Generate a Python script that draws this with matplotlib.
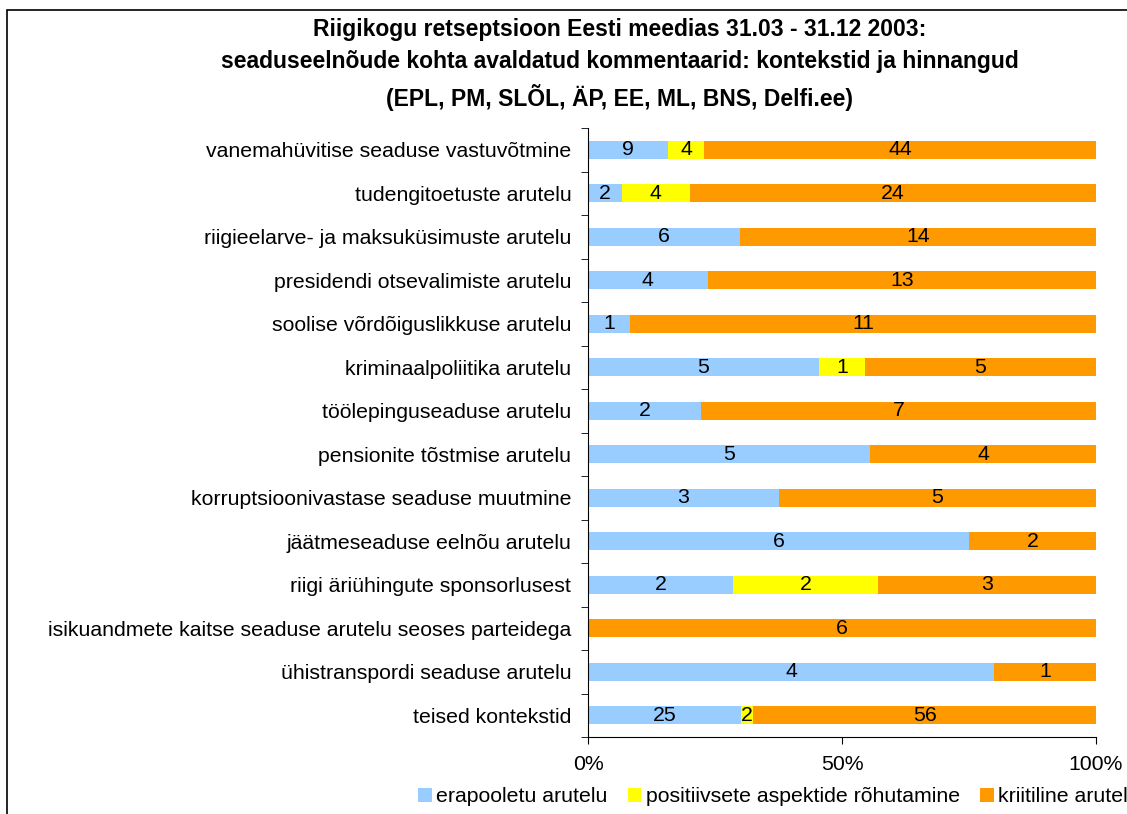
import matplotlib.pyplot as plt
import matplotlib.patches as mpatches
import numpy as np

plt.rcParams['font.family'] = ['Liberation Sans', 'DejaVu Sans']

categories = [
    'vanemahüvitise seaduse vastuvõtmine',
    'tudengitoetuste arutelu',
    'riigieelarve- ja maksuküsimuste arutelu',
    'presidendi otsevalimiste arutelu',
    'soolise võrdõiguslikkuse arutelu',
    'kriminaalpoliitika arutelu',
    'töölepinguseaduse arutelu',
    'pensionite tõstmise arutelu',
    'korruptsioonivastase seaduse muutmine',
    'jäätmeseaduse eelnõu arutelu',
    'riigi äriühingute sponsorlusest',
    'isikuandmete kaitse seaduse arutelu seoses parteidega',
    'ühistranspordi seaduse arutelu',
    'teised kontekstid',
]
neutral = [9, 2, 6, 4, 1, 5, 2, 5, 3, 6, 2, 0, 4, 25]
positive = [4, 4, 0, 0, 0, 1, 0, 0, 0, 0, 2, 0, 0, 2]
critical = [44, 24, 14, 13, 11, 5, 7, 4, 5, 2, 3, 6, 1, 56]

series_names = ['erapooletu arutelu', 'positiivsete aspektide rõhutamine',
                'kriitiline arutelu']
colors = ['#99CCFF', '#FFFF00', '#FF9900']
fs = 15.3

fig = plt.figure(figsize=(11.27, 8.14), dpi=100)
ax = fig.add_axes([588 / 1127, 77 / 814, 508 / 1127, 609 / 814])

data = np.array([neutral, positive, critical], dtype=float)
totals = data.sum(axis=0)
shares = data / totals * 100
y = np.arange(len(categories))

left = np.zeros(len(categories))
for vals, pct, name, col in zip(data, shares, series_names, colors):
    ax.barh(y, pct, left=left, height=0.42, color=col, label=name)
    for yi, v, p, l in zip(y, vals, pct, left):
        if v > 0:
            ax.text(l + p / 2, yi, f'{int(v)}', ha='center', va='center',
                    fontsize=fs)
    left += pct

ax.set_ylim(len(categories) - 0.5, -0.5)
ax.set_xlim(0, 100)
ax.set_yticks(y)
ax.set_yticklabels(categories, fontsize=fs)
ax.set_yticks(np.arange(-0.5, len(categories), 1), minor=True)
ax.tick_params(axis='y', which='major', length=0, pad=12)
ax.tick_params(axis='y', which='minor', length=5, direction='out')
ax.set_xticks([0, 50, 100])
ax.set_xticklabels(['0%', '50%', '100%'], fontsize=fs)
ax.tick_params(axis='x', length=5, direction='out', pad=8)
for s in ['top', 'right']:
    ax.spines[s].set_visible(False)

fig.text(0.55, 0.978,
         'Riigikogu retseptsioon Eesti meedias 31.03 - 31.12 2003:\n'
         'seaduseelnõude kohta avaldatud kommentaarid: kontekstid ja hinnangud\n'
         '(EPL, PM, SLÕL, ÄP, EE, ML, BNS, Delfi.ee)',
         ha='center', va='top', fontsize=16.5, fontweight='bold', linespacing=1.5)

fig.legend(loc='center left', bbox_to_anchor=(418 / 1127, 0.021), ncol=3,
           frameon=False, fontsize=fs, handlelength=0.65, handleheight=0.65,
           handletextpad=0.2, columnspacing=0.95, borderpad=0, borderaxespad=0)

fig.patches.append(mpatches.Rectangle((7 / 1127, -0.1), 1.1, 1 - 10 / 814 + 0.1,
                                      transform=fig.transFigure, fill=False,
                                      edgecolor='black', linewidth=1.2))

fig.savefig('out.png')
